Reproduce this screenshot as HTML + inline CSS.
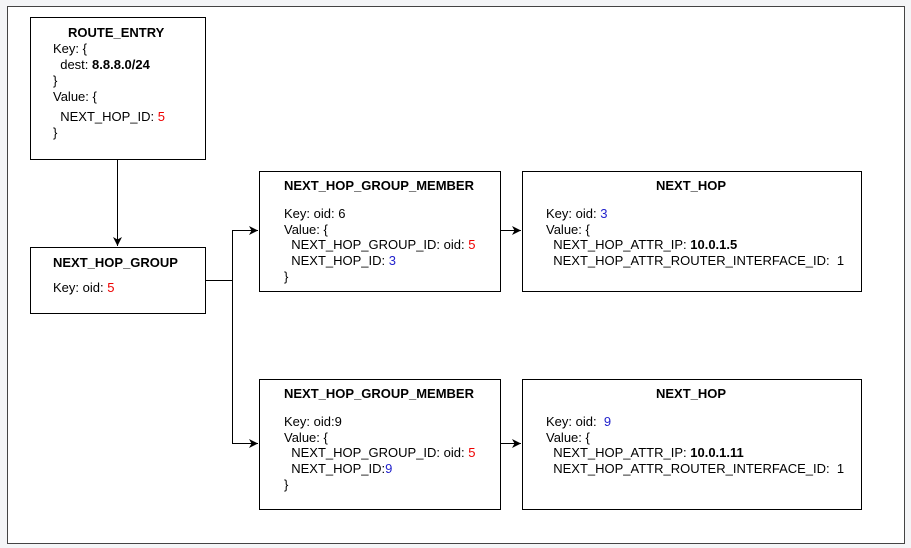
<!DOCTYPE html>
<html><head><meta charset="utf-8"><style>
body{margin:0;width:911px;height:548px;background:#f4f5f7;position:relative;font-family:"Liberation Sans",Arial,sans-serif;font-size:13px;color:#000;overflow:hidden}
.frame{position:absolute;left:7px;top:6px;width:896px;height:536px;border:1px solid #444;background:#fff}
.b{position:absolute;border:1px solid #000;background:#fff;box-sizing:border-box}
.t{position:absolute;white-space:pre;line-height:15px}
.bd{font-weight:bold}
.r{color:#e00}.bl{color:#22c}
</style></head><body>
<div class="frame"></div>
<svg width="911" height="548" style="position:absolute;left:0;top:0">
<defs><marker id="a" markerWidth="10" markerHeight="10" refX="9" refY="5" orient="auto" markerUnits="userSpaceOnUse"><path d="M0,0.5 L9,5 L0,9.5 L2.5,5z" fill="#000"/></marker></defs>
<g stroke="#000" stroke-width="1" fill="none">
<line x1="117.5" y1="159" x2="117.5" y2="246" marker-end="url(#a)"/>
<polyline points="205,280.5 232.5,280.5 232.5,230.5 258,230.5" marker-end="url(#a)"/>
<polyline points="232.5,280 232.5,443.5 258,443.5" marker-end="url(#a)"/>
<line x1="500" y1="230.5" x2="521" y2="230.5" marker-end="url(#a)"/>
<line x1="500" y1="443.5" x2="521" y2="443.5" marker-end="url(#a)"/>
</g></svg>
<div class="b" style="left:30px;top:17px;width:176px;height:143px"></div>
<div class="b" style="left:30px;top:247px;width:176px;height:67px"></div>
<div class="b" style="left:259px;top:171px;width:242px;height:121px"></div>
<div class="b" style="left:522px;top:171px;width:340px;height:121px"></div>
<div class="b" style="left:259px;top:379px;width:242px;height:131px"></div>
<div class="b" style="left:522px;top:379px;width:340px;height:131px"></div>

<div class="t bd" style="left:68px;top:25px">ROUTE_ENTRY</div>
<div class="t" style="left:53px;top:41px">Key: {</div>
<div class="t" style="left:53px;top:57px">  dest: <b>8.8.8.0/24</b></div>
<div class="t" style="left:53px;top:73px">}</div>
<div class="t" style="left:53px;top:89px">Value: {</div>
<div class="t" style="left:53px;top:109px">  NEXT_HOP_ID: <span class="r">5</span></div>
<div class="t" style="left:53px;top:125px">}</div>

<div class="t bd" style="left:53px;top:255px">NEXT_HOP_GROUP</div>
<div class="t" style="left:53px;top:280px">Key: oid: <span class="r">5</span></div>

<div class="t bd" style="left:284px;top:178px">NEXT_HOP_GROUP_MEMBER</div>
<div class="t" style="left:284px;top:206px">Key: oid: 6</div>
<div class="t" style="left:284px;top:222px">Value: {</div>
<div class="t" style="left:284px;top:237px">  NEXT_HOP_GROUP_ID: oid: <span class="r">5</span></div>
<div class="t" style="left:284px;top:253px">  NEXT_HOP_ID: <span class="bl">3</span></div>
<div class="t" style="left:284px;top:269px">}</div>

<div class="t bd" style="left:656px;top:178px">NEXT_HOP</div>
<div class="t" style="left:546px;top:206px">Key: oid: <span class="bl">3</span></div>
<div class="t" style="left:546px;top:222px">Value: {</div>
<div class="t" style="left:546px;top:237px">  NEXT_HOP_ATTR_IP: <b>10.0.1.5</b></div>
<div class="t" style="left:546px;top:253px">  NEXT_HOP_ATTR_ROUTER_INTERFACE_ID:  1</div>

<div class="t bd" style="left:284px;top:386px">NEXT_HOP_GROUP_MEMBER</div>
<div class="t" style="left:284px;top:414px">Key: oid:9</div>
<div class="t" style="left:284px;top:430px">Value: {</div>
<div class="t" style="left:284px;top:445px">  NEXT_HOP_GROUP_ID: oid: <span class="r">5</span></div>
<div class="t" style="left:284px;top:461px">  NEXT_HOP_ID:<span class="bl">9</span></div>
<div class="t" style="left:284px;top:477px">}</div>

<div class="t bd" style="left:656px;top:386px">NEXT_HOP</div>
<div class="t" style="left:546px;top:414px">Key: oid:  <span class="bl">9</span></div>
<div class="t" style="left:546px;top:430px">Value: {</div>
<div class="t" style="left:546px;top:445px">  NEXT_HOP_ATTR_IP: <b>10.0.1.11</b></div>
<div class="t" style="left:546px;top:461px">  NEXT_HOP_ATTR_ROUTER_INTERFACE_ID:  1</div>
</body></html>
